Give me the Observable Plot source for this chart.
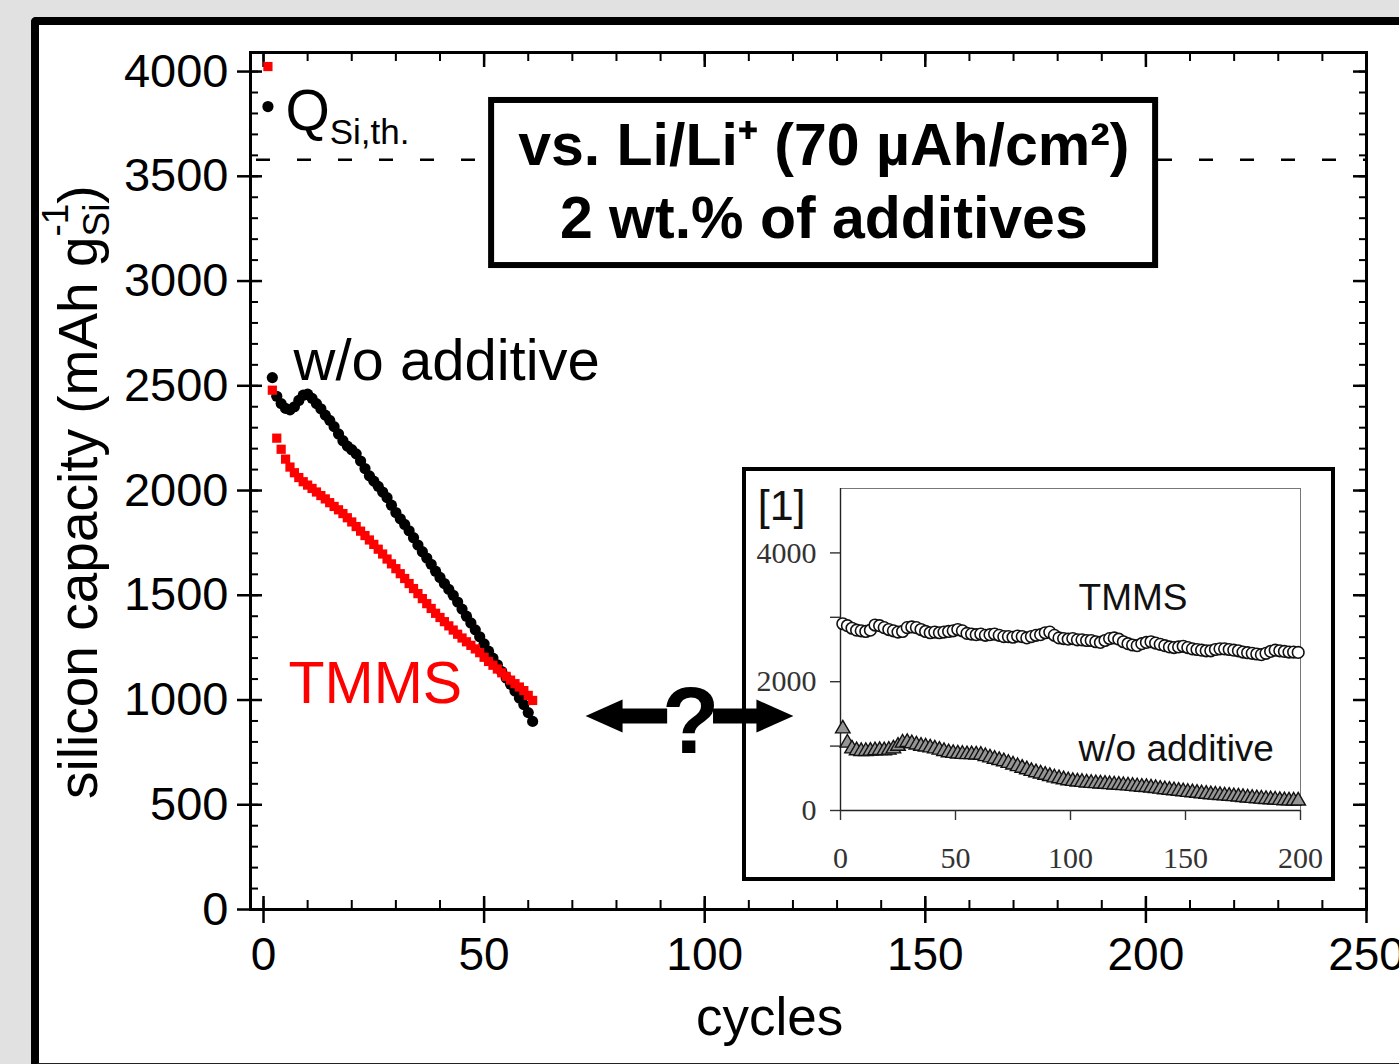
<!DOCTYPE html>
<html><head><meta charset="utf-8">
<script src="https://cdn.jsdelivr.net/npm/d3@7"></script>
<script src="https://cdn.jsdelivr.net/npm/@observablehq/plot@0.6"></script>
<style>
html,body{margin:0;padding:0;background:#e1e1e1;}
#root{position:relative;width:1399px;height:1064px;overflow:hidden;background:#e1e1e1;}
#panel{position:absolute;left:31px;top:17px;width:1420px;height:1049px;background:#fff;border-left:8px solid #000;border-top:8px solid #000;border-bottom:3px solid #222;border-top-left-radius:5px;box-sizing:border-box;}
#main{position:absolute;left:0;top:0;}
#insetBox{position:absolute;left:742px;top:467px;width:593px;height:414px;border:4px solid #000;box-sizing:border-box;}
#inset{position:absolute;left:745px;top:468px;}
</style></head>
<body><div id="root"><div id="panel"></div><div id="main"></div><div id="insetBox"></div><div id="inset"></div></div>
<script>
// ---------- data (silicon capacity, mAh/g_Si, cycle 1..61) ----------
const woAdditive = [3833,2539,2450,2415,2392,2385,2400,2430,2455,2460,
  2440,2415,2390,2360,2335,2305,2270,2238,2212,2195,
  2175,2141,2105,2070,2045,2020,1993,1966,1930,1895,
  1865,1838,1808,1775,1740,1708,1678,1648,1615,1585,
  1556,1528,1500,1468,1434,1400,1368,1335,1302,1268,
  1233,1200,1168,1136,1105,1075,1043,1010,978,940,898];
const tmms = [4024,2479,2250,2197,2150,2112,2085,2062,2042,2026,
  2010,1993,1976,1960,1942,1924,1908,1890,1870,1850,
  1828,1806,1785,1764,1743,1720,1697,1673,1650,1627,
  1603,1580,1556,1532,1508,1484,1460,1437,1414,1394,
  1374,1354,1334,1314,1296,1278,1261,1244,1226,1204,
  1184,1166,1148,1130,1113,1095,1078,1062,1045,1022,998];
const qTheory = 3579;

// inset (ref. [1]) values, every second cycle 1,3,...,199
const insetTmms = [2900,2870,2830,2800,2790,2780,2800,2880,2870,2840,
 2810,2790,2770,2780,2840,2850,2840,2810,2780,2760,
 2770,2760,2770,2780,2790,2810,2790,2750,2740,2730,
 2740,2720,2730,2740,2720,2700,2700,2690,2710,2700,
 2680,2700,2720,2730,2760,2770,2720,2680,2670,2660,
 2670,2650,2650,2640,2640,2620,2610,2640,2670,2680,
 2660,2620,2590,2570,2560,2590,2610,2620,2600,2580,
 2560,2540,2530,2540,2550,2530,2510,2500,2490,2480,
 2480,2500,2510,2510,2500,2490,2480,2460,2450,2440,
 2430,2420,2440,2470,2490,2480,2470,2460,2460,2455];
const insetWo = [1270,1050,960,930,920,920,925,930,935,930,
 940,960,1000,1050,1060,1040,1020,1000,990,975,
 960,940,920,900,890,880,875,870,870,865,
 860,840,820,800,780,760,735,710,685,660,
 635,610,590,570,550,530,510,495,480,465,
 455,445,440,430,425,420,415,410,405,400,
 395,390,385,378,370,365,360,352,345,335,
 325,318,310,302,295,285,278,270,262,255,
 248,242,236,230,224,218,212,205,198,192,
 186,180,175,170,165,160,155,152,150,150];

// ticks
const xMajor = [0,50,100,150,200,250];
const xMinor = d3.range(0, 251, 10);
const yMajor = [0,500,1000,1500,2000,2500,3000,3500,4000];
const yMinor = d3.range(0, 4001, 100);
const insetXTicks = [0,50,100,150,200];
const insetYTicks = [0,1000,2000,3000,4000];
const insetYLabels = [0,2000,4000];

// annotation anchors (data units)
const titleBox = [{x1:51.7, x2:202.2, y1:3074, y2:3862}];
const titleLines = [{x:127.0, y:3644, t:"vs. Li/Li\u207A (70 \u00B5Ah/cm\u00B2)"},{x:127.0, y:3294, t:"2 wt.% of additives"}];
const arrowShafts = [{x1:81.1, x2:91.6, y:923.6},{x1:102.0, x2:112.2, y:923.6}];
const arrowHeads = [{x:77.3, y:923.6, a:180},{x:115.8, y:923.6, a:0}];

const woData = woAdditive.map((v,i)=>({cycle:i+1, cap:v}));
const tmData = tmms.map((v,i)=>({cycle:i+1, cap:v}));
const insetCycles = d3.range(1, 200, 2);
const inTm = insetTmms.map((v,i)=>({cycle:insetCycles[i], cap:v}));
const inWo = insetWo.map((v,i)=>({cycle:insetCycles[i], cap:v}));

const SANS = "'Liberation Sans', Arial, Helvetica, sans-serif";
const headSymbol = {draw(ctx){ctx.moveTo(19,0);ctx.lineTo(-18,-16.5);ctx.lineTo(-18,16.5);ctx.closePath();}};
const noText = () => "";
const plain = d => String(d);

const main = Plot.plot({
  width:1399, height:1064,
  marginLeft:250, marginRight:33, marginTop:52, marginBottom:155,
  x:{domain:[-2.95,250]},
  y:{domain:[0,4091]},
  style:{background:"transparent", fontFamily:SANS, fontSize:"46px", color:"#000", overflow:"visible"},
  marks:[
    Plot.ruleY([qTheory], {stroke:"#000", strokeWidth:2.4, strokeDasharray:"14,27", strokeDashoffset:-6}),
    Plot.rect(titleBox, {x1:"x1", x2:"x2", y1:"y1", y2:"y2", fill:"#fff", stroke:"#000", strokeWidth:6}),
    Plot.text(titleLines, {x:"x", y:"y", text:"t", fontWeight:"bold", fontSize:59, textAnchor:"middle", lineAnchor:"middle", fill:"#000"}),
    Plot.frame({stroke:"#000", strokeWidth:3}),
    Plot.axisY(yMajor, {anchor:"left", tickSize:13, tickPadding:9, strokeWidth:2.5, fontSize:47, tickFormat:plain, label:null}),
    Plot.axisY(yMajor, {anchor:"left", tickSize:-12, strokeWidth:2.5, tickFormat:noText, label:null}),
    Plot.axisY(yMinor, {anchor:"left", tickSize:-8, strokeWidth:2, tickFormat:noText, label:null}),
    Plot.axisY(yMajor, {anchor:"right", tickSize:-14, strokeWidth:2.5, tickFormat:noText, label:null}),
    Plot.axisY(yMinor, {anchor:"right", tickSize:-8, strokeWidth:2, tickFormat:noText, label:null}),
    Plot.axisX(xMajor, {anchor:"bottom", tickSize:14, tickPadding:14, strokeWidth:2.5, fontSize:46, tickFormat:plain, label:null}),
    Plot.axisX(xMajor, {anchor:"bottom", tickSize:-13, strokeWidth:2.5, tickFormat:noText, label:null}),
    Plot.axisX(xMinor, {anchor:"bottom", tickSize:-9, strokeWidth:2, tickFormat:noText, label:null}),
    Plot.axisX(xMajor, {anchor:"top", tickSize:-14, strokeWidth:2.5, tickFormat:noText, label:null}),
    Plot.axisX(xMinor, {anchor:"top", tickSize:-8, strokeWidth:2, tickFormat:noText, label:null}),
    Plot.dot(woData, {x:"cycle", y:"cap", r:5.6, fill:"#000", symbol:"circle"}),
    Plot.dot(tmData, {x:"cycle", y:"cap", r:5.2, fill:"#ff0000", symbol:"square"}),
    Plot.text([{x:5.0, y:3809}], {x:"x", y:"y", text:()=>"Q", fontSize:57, textAnchor:"start", lineAnchor:"middle", fill:"#000"}),
    Plot.text([{x:15.0, y:3706}], {x:"x", y:"y", text:()=>"Si,th.", fontSize:35, textAnchor:"start", lineAnchor:"middle", fill:"#000"}),
    Plot.text([{x:6.8, y:2616}], {x:"x", y:"y", text:()=>"w/o additive", fontSize:58, textAnchor:"start", lineAnchor:"middle", fill:"#000"}),
    Plot.text([{x:5.67, y:1076}], {x:"x", y:"y", text:()=>"TMMS", fontSize:59, textAnchor:"start", lineAnchor:"middle", fill:"#ff0000"}),
    Plot.ruleY(arrowShafts, {y:"y", x1:"x1", x2:"x2", stroke:"#000", strokeWidth:15}),
    Plot.dot(arrowHeads, {x:"x", y:"y", rotate:"a", symbol:headSymbol, fill:"#000", stroke:"none"}),
    Plot.text([{x:96.8, y:893}], {x:"x", y:"y", text:()=>"?", fontSize:94, fontWeight:"bold", textAnchor:"middle", lineAnchor:"middle", fill:"#000"}),
    Plot.text([{x:114.7}], {x:"x", frameAnchor:"bottom", dy:109, text:()=>"cycles", fontSize:53, textAnchor:"middle", lineAnchor:"middle", fill:"#000"})
  ]
});
// y-axis label with sub/superscripts
{
  const yPix = main.scale("y").apply(1990);
  const t = d3.select(main).append("text")
    .attr("transform", `translate(97,${yPix}) rotate(-90)`)
    .attr("text-anchor","middle").attr("font-family", SANS).attr("font-size", 55).attr("fill","#000");
  t.append("tspan").text("silicon capacity (mAh g");
  t.append("tspan").attr("font-size", 37).attr("dy", 12).text("Si");
  t.append("tspan").attr("font-size", 37).attr("dx", -33).attr("dy", -41).text("-1");
  t.append("tspan").attr("dy", 29).text(")");
}
document.getElementById("main").appendChild(main);

const inset = Plot.plot({
  width:588, height:411,
  marginLeft:95, marginRight:33, marginTop:20, marginBottom:69,
  x:{domain:[0,200]}, y:{domain:[0,5000]},
  style:{background:"transparent", fontFamily:"'Liberation Serif','Times New Roman',serif", fontSize:"30px", color:"#333", overflow:"visible"},
  marks:[
    Plot.frame({stroke:"#777", strokeWidth:1}),
    Plot.ruleX([0], {stroke:"#222", strokeWidth:1.4}),
    Plot.ruleY([0], {stroke:"#222", strokeWidth:1.4}),
    Plot.axisY(insetYTicks, {anchor:"left", tickSize:10, tickPadding:14, strokeWidth:1.4, fontSize:30, tickFormat:d => insetYLabels.includes(d) ? String(d) : "", label:null}),
    Plot.axisX(insetXTicks, {anchor:"bottom", tickSize:10, tickPadding:26, strokeWidth:1.4, fontSize:30, tickFormat:plain, label:null}),
    Plot.dot(inTm, {x:"cycle", y:"cap", r:5.8, fill:"#fff", stroke:"#111", strokeWidth:1.6}),
    Plot.dot(inWo, {x:"cycle", y:"cap", r:5.4, symbol:"triangle", fill:"#959595", stroke:"#111", strokeWidth:1.4}),
    Plot.text([{x:103.5, y:3300}], {x:"x", y:"y", text:()=>"TMMS", fontFamily:SANS, fontSize:37, textAnchor:"start", lineAnchor:"middle", fill:"#111"}),
    Plot.text([{x:103.5, y:960}], {x:"x", y:"y", text:()=>"w/o additive", fontFamily:SANS, fontSize:37, textAnchor:"start", lineAnchor:"middle", fill:"#111"}),
    Plot.text([{x:-36, y:4720}], {x:"x", y:"y", text:()=>"[1]", fontFamily:SANS, fontSize:43, textAnchor:"start", lineAnchor:"middle", fill:"#111"})
  ]
});
document.getElementById("inset").appendChild(inset);
</script>
</body></html>
